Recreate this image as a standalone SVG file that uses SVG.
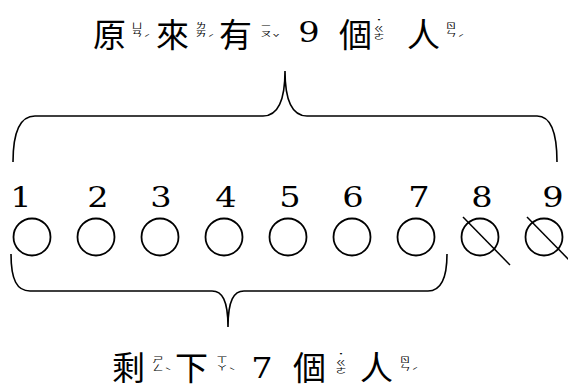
<svg xmlns="http://www.w3.org/2000/svg" width="568" height="390" viewBox="0 0 568 390">
<style>
.cjk{font-family:"Noto Sans CJK TC","Noto Sans CJK SC",sans-serif;font-size:33px;fill:#000}
.zy{font-family:"Noto Sans CJK TC","Noto Sans CJK SC",sans-serif;font-size:11px;fill:#000;text-anchor:middle}
.tn{font-size:12px}
.num{font-family:"DejaVu Serif","Liberation Serif",serif;font-size:28px;fill:#000;text-anchor:middle}
.ring{fill:none;stroke:#000;stroke-width:1.8}
.brace{fill:none;stroke:#000;stroke-width:1.6}
.strike{stroke:#000;stroke-width:1.5}
</style>

<g id="title-top">
  <text class="cjk" x="93" y="47">原</text>
  <g transform="translate(137,21) scale(1,0.62)"><text class="zy"><tspan x="0" y="11">ㄩ</tspan><tspan x="0" y="25">ㄢ</tspan><tspan class="tn" x="10" y="33">ˊ</tspan></text></g>
  <text class="cjk" x="156" y="47">來</text>
  <g transform="translate(201,21) scale(1,0.62)"><text class="zy"><tspan x="0" y="11">ㄌ</tspan><tspan x="0" y="25">ㄞ</tspan><tspan class="tn" x="10" y="33">ˊ</tspan></text></g>
  <text class="cjk" x="219" y="47">有</text>
  <g transform="translate(266,21) scale(1,0.62)"><text class="zy"><tspan x="0" y="11">ㄧ</tspan><tspan x="0" y="25">ㄡ</tspan><tspan class="tn" x="10" y="33">ˇ</tspan></text></g>
  <text class="num" transform="translate(309,42) scale(1.2,1)">9</text>
  <text class="cjk" x="339" y="47">個</text>
  <g transform="translate(379,24) scale(1,0.62)"><text class="zy"><tspan class="tn" x="0" y="-2">˙</tspan><tspan x="0" y="11">ㄍ</tspan><tspan x="0" y="25">ㄜ</tspan></text></g>
  <text class="cjk" x="407" y="47">人</text>
  <g transform="translate(451,21) scale(1,0.62)"><text class="zy"><tspan x="0" y="11">ㄖ</tspan><tspan x="0" y="25">ㄣ</tspan><tspan class="tn" x="10" y="33">ˊ</tspan></text></g>
</g>

<g id="connectors">
  <path class="brace" d="M13,162 C13,132 20,116 35,116 L263,116 C276,116 285,104 285,71 C285,104 294,116 307,116 L537,116 C550,116 557,132 557,162"/>
  <path class="brace" d="M11,254 C11,280 17,291 30,291 L212,291 C222,291 228,300 228,327 C228,300 234,291 244,291 L428,291 C440,291 447,280 447,254"/>
</g>

<g id="person-1"><text class="num" transform="translate(21,207) scale(1.2,1)">1</text><circle class="ring" cx="32" cy="237" r="18.5"/></g>
<g id="person-2"><text class="num" transform="translate(98,207) scale(1.2,1)">2</text><circle class="ring" cx="96" cy="237" r="18.5"/></g>
<g id="person-3"><text class="num" transform="translate(161,207) scale(1.2,1)">3</text><circle class="ring" cx="160" cy="237" r="18.5"/></g>
<g id="person-4"><text class="num" transform="translate(226,207) scale(1.2,1)">4</text><circle class="ring" cx="224" cy="237" r="18.5"/></g>
<g id="person-5"><text class="num" transform="translate(290,207) scale(1.2,1)">5</text><circle class="ring" cx="288" cy="237" r="18.5"/></g>
<g id="person-6"><text class="num" transform="translate(353,207) scale(1.2,1)">6</text><circle class="ring" cx="352" cy="237" r="18.5"/></g>
<g id="person-7"><text class="num" transform="translate(419,207) scale(1.2,1)">7</text><circle class="ring" cx="416" cy="237" r="18.5"/></g>
<g id="person-8"><text class="num" transform="translate(482,207) scale(1.2,1)">8</text><circle class="ring" cx="480" cy="237" r="18.5"/><line class="strike" x1="463" y1="217" x2="510" y2="265"/></g>
<g id="person-9"><text class="num" transform="translate(553,207) scale(1.2,1)">9</text><circle class="ring" cx="544" cy="237" r="18.5"/><line class="strike" x1="527" y1="217" x2="574" y2="265"/></g>

<g id="title-bottom">
  <text class="cjk" x="112" y="380">剩</text>
  <g transform="translate(158,355) scale(1,0.62)"><text class="zy"><tspan x="0" y="11">ㄕ</tspan><tspan x="0" y="25">ㄥ</tspan><tspan class="tn" x="10" y="30">ˋ</tspan></text></g>
  <text class="cjk" x="175" y="380">下</text>
  <g transform="translate(222,355) scale(1,0.62)"><text class="zy"><tspan x="0" y="11">ㄒ</tspan><tspan x="0" y="25">ㄚ</tspan><tspan class="tn" x="10" y="31">ˋ</tspan></text></g>
  <text class="num" transform="translate(262,378) scale(1.2,1)">7</text>
  <text class="cjk" x="293" y="380">個</text>
  <g transform="translate(341,358) scale(1,0.62)"><text class="zy"><tspan class="tn" x="0" y="-2">˙</tspan><tspan x="0" y="11">ㄍ</tspan><tspan x="0" y="25">ㄜ</tspan></text></g>
  <text class="cjk" x="360" y="380">人</text>
  <g transform="translate(405,355) scale(1,0.62)"><text class="zy"><tspan x="0" y="11">ㄖ</tspan><tspan x="0" y="25">ㄣ</tspan><tspan class="tn" x="10" y="30">ˊ</tspan></text></g>
</g>
</svg>
